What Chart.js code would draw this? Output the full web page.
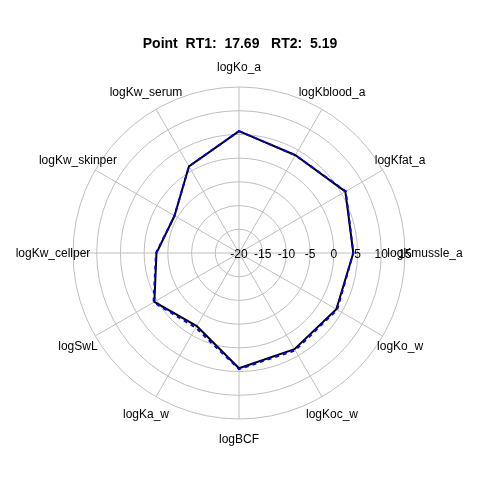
<!DOCTYPE html>
<html lang="en">
<head>
  <meta charset="UTF-8">
  <title>Point RT1 radar</title>
  <script src="https://cdn.jsdelivr.net/npm/chart.js"></script>
  <style>
    html, body {
      margin: 0;
      padding: 0;
      background: #ffffff;
    }
    #wrap {
      width: 480px;
      height: 480px;
    }
  </style>
</head>
<body>
  <div id="wrap"><canvas id="radar" width="480" height="480"></canvas></div>

  <script>
    const titleText = 'Point  RT1:  17.69   RT2:  5.19';

    const axes = [
      'logKo_a', 'logKblood_a', 'logKfat_a', 'logKmussle_a',
      'logKo_w', 'logKoc_w', 'logBCF', 'logKa_w',
      'logSwL', 'logKw_cellper', 'logKw_skinper', 'logKw_serum'
    ];

    // black solid series and blue dashed series
    const blackValues = [5.7, 3.8, 5.9, 4.1, 3.7, 3.4, 4.3, -2.2, 0.6, -2.6, -4.3, 1.1];
    const blueValues  = [5.7, 3.8, 6.0, 4.1, 3.9, 3.7, 4.5, -1.8, 0.8, -2.5, -4.3, 1.1];

    const tickValues = [-20, -15, -10, -5, 0, 5, 10, 15];

    const gridGrey = '#bebebe';

    // title, axis names and ring values, drawn after the chart
    const textPlugin = {
      id: 'radarText',
      afterDraw(chart) {
        const ctx = chart.ctx;
        const r = chart.scales.r;
        ctx.save();
        ctx.fillStyle = '#000';
        ctx.textAlign = 'center';
        ctx.textBaseline = 'middle';

        ctx.font = 'bold 14px "Liberation Sans", Arial, sans-serif';
        ctx.fillText(titleText, 240, 44);

        ctx.font = '12px "Liberation Sans", Arial, sans-serif';
        axes.forEach((name, i) => {
          const p = r.getPointPosition(i, r.drawingArea + 20);
          ctx.fillText(name, p.x, p.y + 1);
        });

        tickValues.forEach(v => {
          const d = r.getDistanceFromCenterForValue(v);
          ctx.fillText(String(v), r.xCenter + d, r.yCenter + 2);
        });
        ctx.restore();
      }
    };

    const ctx = document.getElementById('radar').getContext('2d');
    new Chart(ctx, {
      type: 'radar',
      data: {
        labels: axes,
        datasets: [
          {
            label: 'blue',
            data: blueValues,
            borderColor: '#0000ff',
            borderWidth: 2,
            borderDash: [4, 4],
            fill: false,
            pointRadius: 0,
            tension: 0,
            order: 0
          },
          {
            label: 'black',
            data: blackValues,
            borderColor: '#000000',
            borderWidth: 2,
            fill: false,
            pointRadius: 0,
            tension: 0,
            order: 1
          }
        ]
      },
      options: {
        responsive: false,
        animation: false,
        layout: {
          padding: { left: 73, right: 75, top: 87, bottom: 61 }
        },
        plugins: {
          legend: { display: false },
          title: { display: false },
          tooltip: { enabled: false }
        },
        scales: {
          r: {
            min: -20,
            max: 15,
            ticks: { stepSize: 5, display: false },
            grid: { circular: true, color: gridGrey, lineWidth: 1 },
            angleLines: { color: gridGrey, lineWidth: 1 },
            pointLabels: { display: false }
          }
        }
      },
      plugins: [textPlugin]
    });
  </script>
</body>
</html>
